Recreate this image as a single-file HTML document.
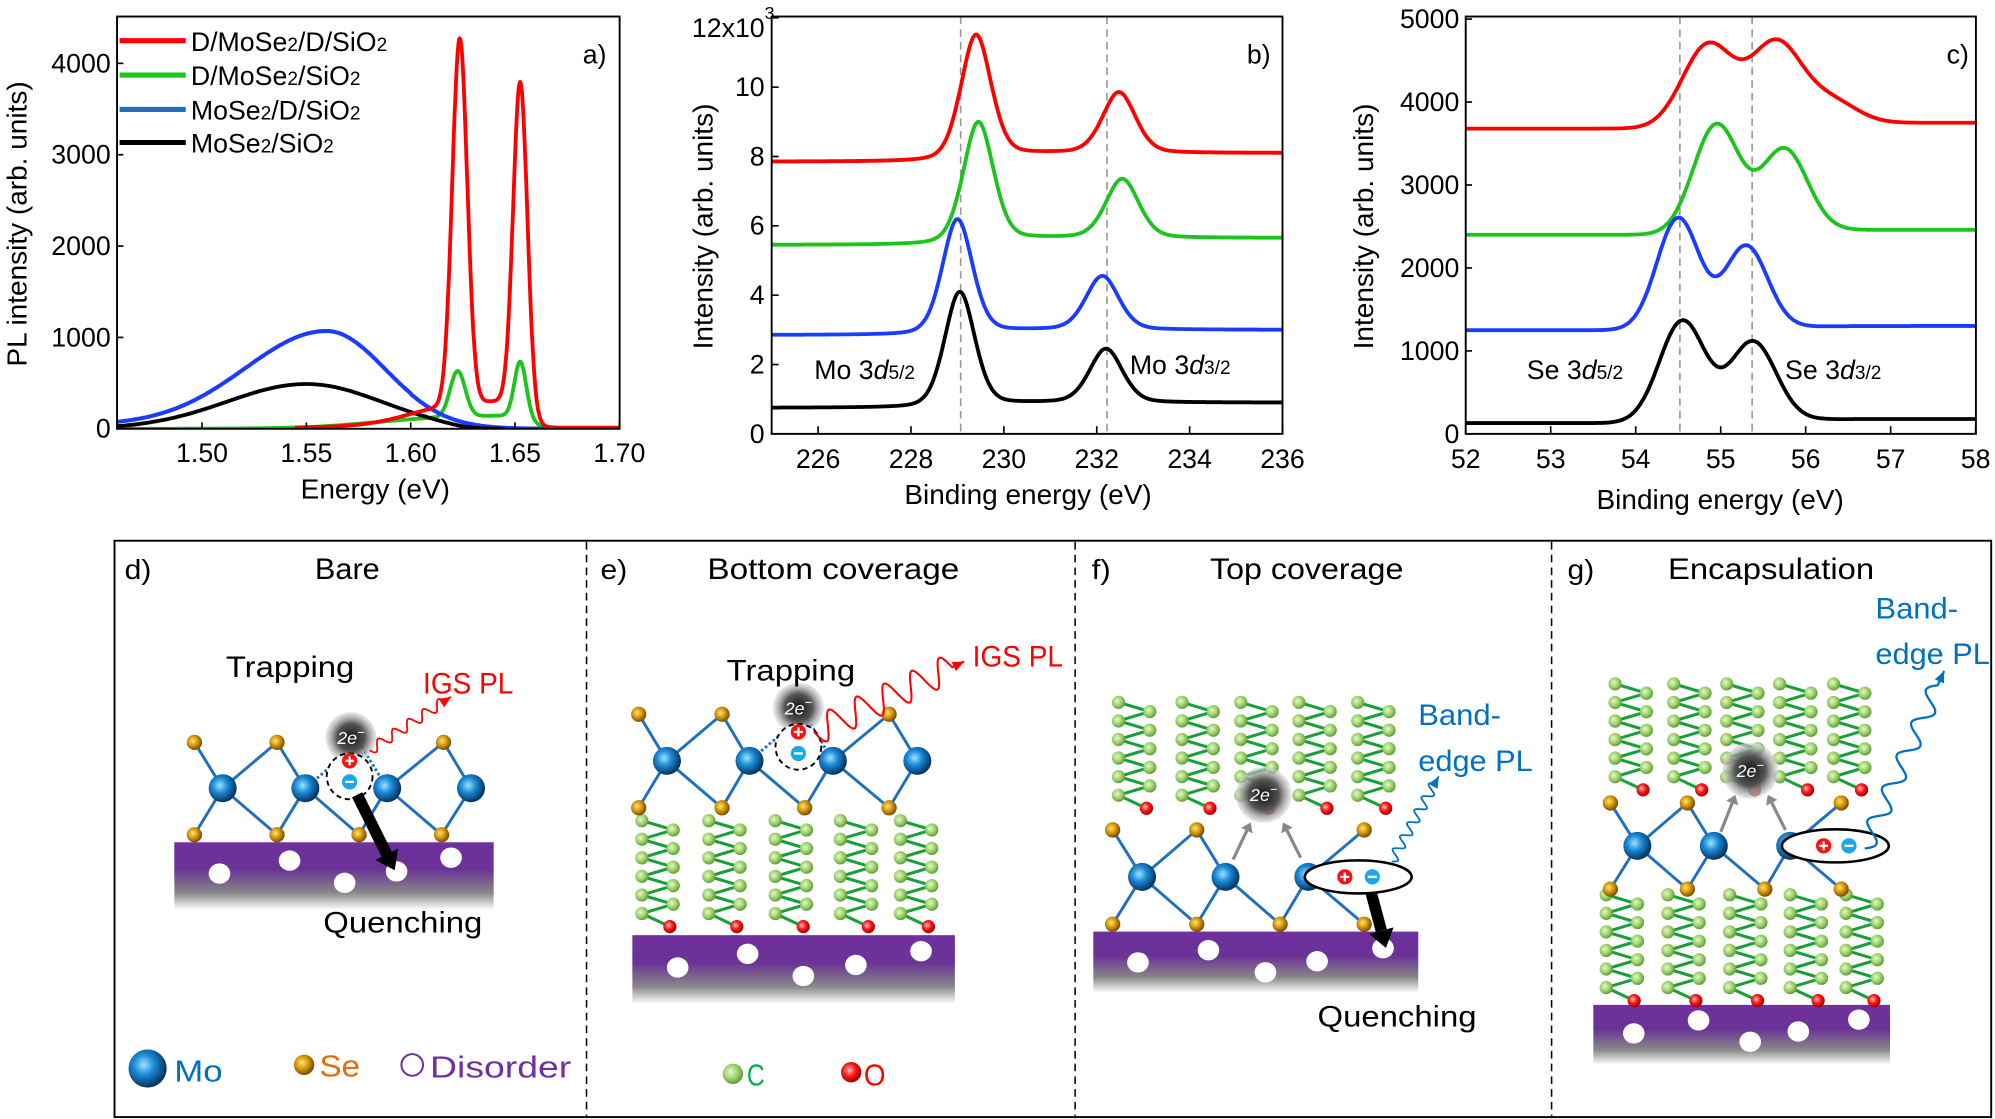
<!DOCTYPE html>
<html><head><meta charset="utf-8"><style>
html,body{margin:0;padding:0;background:#fff;}
svg{display:block;}
text{font-family:"Liberation Sans",sans-serif;}
</style></head><body>
<svg id="s" width="1995" height="1119" viewBox="0 0 1568 879.5" preserveAspectRatio="none" xmlns="http://www.w3.org/2000/svg">
<defs>
<radialGradient id="gMo" cx="0.4" cy="0.4" r="0.6"><stop offset="0" stop-color="#9be3ff"/><stop offset="0.45" stop-color="#1b8ad6"/><stop offset="1" stop-color="#06345f"/></radialGradient>
<radialGradient id="gSe" cx="0.4" cy="0.4" r="0.6"><stop offset="0" stop-color="#ffe27a"/><stop offset="0.5" stop-color="#d89a0a"/><stop offset="1" stop-color="#7a4d00"/></radialGradient>
<radialGradient id="gC" cx="0.4" cy="0.4" r="0.6"><stop offset="0" stop-color="#e6f8c8"/><stop offset="0.6" stop-color="#9ad068"/><stop offset="1" stop-color="#5f9e3a"/></radialGradient>
<radialGradient id="gO" cx="0.4" cy="0.4" r="0.6"><stop offset="0" stop-color="#ffc0c0"/><stop offset="0.5" stop-color="#ff1a1a"/><stop offset="1" stop-color="#a00000"/></radialGradient>
<radialGradient id="gCl" cx="0.5" cy="0.5" r="0.5"><stop offset="0" stop-color="#111"/><stop offset="0.55" stop-color="#555"/><stop offset="1" stop-color="#ddd" stop-opacity="0.6"/></radialGradient>
<linearGradient id="gSub" x1="0" y1="0" x2="0" y2="1"><stop offset="0" stop-color="#7030a0"/><stop offset="0.4" stop-color="#6a3296"/><stop offset="0.75" stop-color="#888"/><stop offset="1" stop-color="#fff"/></linearGradient>
<clipPath id="ca"><rect x="92" y="13" width="395" height="324"/></clipPath>
<clipPath id="cb"><rect x="606.5" y="13" width="401.5" height="328"/></clipPath>
<clipPath id="cc"><rect x="1152" y="13" width="401" height="328"/></clipPath>
</defs>
<g id="g"></g>
</svg>
<script>
let o='';
const G=(e,m,s)=>Math.exp(-0.5*((e-m)/s)**2);
const sig=x=>1/(1+Math.exp(-x));
function P(f,a,b,n,X,Y){let d='';for(let i=0;i<=n;i++){const e=a+(b-a)*i/n;d+=(i?'L':'M')+X(e).toFixed(1)+','+Y(f(e)).toFixed(1);}return d;}
function path(d,c,w,extra){o+=`<path d="${d}" fill="none" stroke="${c}" stroke-width="${w}" stroke-linejoin="round" ${extra||''}/>`;}
function T(x,y,t,sz,anc,extra){o+=`<text x="${x}" y="${y}" font-size="${sz}" text-anchor="${anc||'start'}" ${extra||''}>${t}</text>`;}
// ===== Panel a =====
{const X=e=>158.8+(e-1.5)*1640, Y=v=>337-v*0.0718;
o+='<g clip-path="url(#ca)">';
const blue=e=>1050*(e<1.56?G(e,1.56,0.039):G(e,1.56,0.028))+40*sig((1.56-e)/0.03)*(e<1.6?1:0.3);
const black=e=>490*(e<1.55?G(e,1.55,0.038):G(e,1.55,0.036))*sig((1.625-e)/0.006);
const green=e=>150*sig((e-1.585)/0.018)*sig((1.659-e)/0.0025)+500*G(e,1.6225,0.0036)+600*G(e,1.6525,0.0028);
const red=e=>300*sig((e-1.6)/0.012)*sig((1.657-e)/0.0025)+4000*G(e,1.6235,0.0036)+3530*G(e,1.6525,0.0034)+12;
path(P(green,1.459,1.672,400,X,Y),'#1ec41e',3);
path(P(blue,1.459,1.665,300,X,Y),'#1a3cff',3.2);
path(P(black,1.459,1.645,300,X,Y),'#000',3);
path(P(red,1.5445,1.70,500,X,Y),'#ff0000',3);
o+='</g>';
o+='<rect x="92" y="13" width="395" height="324" fill="none" stroke="#000" stroke-width="1.5"/>';
for(let v=0;v<=4000;v+=1000){const y=Y(v);o+=`<line x1="92" y1="${y}" x2="97" y2="${y}" stroke="#000" stroke-width="1.3"/>`;T(87,y+7,v,21,'end');}
[1.5,1.55,1.6,1.65,1.7].forEach(e=>{const x=X(e);o+=`<line x1="${x}" y1="337" x2="${x}" y2="332" stroke="#000" stroke-width="1.3"/>`;T(x,363,e.toFixed(2),21,'middle');});
T(295,392,'Energy (eV)',22,'middle');
T(0,0,'PL intensity (arb. units)',22,'middle','transform="translate(21,176) rotate(-90)"');
T(458,50,'a)',21);
const lg=[['#ff0000','D/MoSe<tspan font-size="15">2</tspan>/D/SiO<tspan font-size="15">2</tspan>',32],['#1ec41e','D/MoSe<tspan font-size="15">2</tspan>/SiO<tspan font-size="15">2</tspan>',59],['#1f6fc0','MoSe<tspan font-size="15">2</tspan>/D/SiO<tspan font-size="15">2</tspan>',86],['#000','MoSe<tspan font-size="15">2</tspan>/SiO<tspan font-size="15">2</tspan>',112]];
lg.forEach(l=>{o+=`<line x1="94" y1="${l[2]}" x2="146" y2="${l[2]}" stroke="${l[0]}" stroke-width="4"/>`;T(150,l[2]+8,l[1],21);});
}
// ===== Panel b =====
{const X=e=>606.5+(e-225)*36.5, Y=v=>341-v*27.25;
o+='<g clip-path="url(#cb)">';
[229.07,232.22].forEach(e=>o+=`<line x1="${X(e)}" y1="13" x2="${X(e)}" y2="345" stroke="#999" stroke-width="1.3" stroke-dasharray="6,4"/>`);
const tr=(b0,b1,m1,a1,m2,a2)=>e=>b0+(b1-b0)*sig((e-229.5)/0.5)+a1*(0.75*G(e,m1,0.33)+0.25/(1+((e-m1)/0.35)**2))+a2*(0.75*G(e,m2,0.36)+0.25/(1+((e-m2)/0.38)**2));
path(P(tr(7.85,8.1,229.4,3.55,232.48,1.75),225,236,400,X,Y),'#ff0000',3);
path(P(tr(5.45,5.65,229.45,3.45,232.55,1.7),225,236,400,X,Y),'#1ec41e',3);
path(P(tr(2.85,3.0,229.0,3.3,232.12,1.55),225,236,400,X,Y),'#1a3cff',3);
path(P(tr(0.75,0.9,229.05,3.3,232.2,1.55),225,236,400,X,Y),'#000',3);
o+='</g>';
o+='<rect x="606.5" y="13" width="401.5" height="328" fill="none" stroke="#000" stroke-width="1.5"/>';
for(let v=0;v<=12;v+=2){const y=Y(v);o+=`<line x1="606.5" y1="${y}" x2="612" y2="${y}" stroke="#000" stroke-width="1.3"/>`;if(v<12)T(601,y+7,v,21,'end');}
T(601,29,'12x10',21,'end');T(601,15,'3',14);
for(let e=226;e<=236;e+=2){const x=X(e);o+=`<line x1="${x}" y1="341" x2="${x}" y2="335" stroke="#000" stroke-width="1.3"/>`;T(x,368,e,21,'middle');}
T(808,396,'Binding energy (eV)',22,'middle');
T(0,0,'Intensity (arb. units)',22,'middle','transform="translate(560,178) rotate(-90)"');
T(980,50,'b)',21);
T(640,298,'Mo 3<tspan font-style="italic">d</tspan><tspan font-size="15">5/2</tspan>',21);
T(888,294,'Mo 3<tspan font-style="italic">d</tspan><tspan font-size="15">3/2</tspan>',21);
}
// ===== Panel c =====
{const X=e=>1152+(e-52)*66.8, Y=v=>341-v*0.0652;
o+='<g clip-path="url(#cc)">';
[54.52,55.37].forEach(e=>o+=`<line x1="${X(e)}" y1="13" x2="${X(e)}" y2="345" stroke="#999" stroke-width="1.3" stroke-dasharray="6,4"/>`);
const tr=(b0,b1,m1,a1,m2,a2,s)=>e=>b0+(b1-b0)*sig((e-55.5)/0.3)+a1*G(e,m1,s)+a2*G(e,m2,s);
path(P(e=>tr(3680,3750,54.85,1000,55.65,980,0.3)(e)+260*G(e,56.3,0.3),52,58,300,X,Y),'#ff0000',3);
path(P(tr(2400,2460,54.95,1320,55.75,990,0.27),52,58,300,X,Y),'#1ec41e',3);
path(P(tr(1250,1300,54.5,1350,55.3,1000,0.25),52,58,300,X,Y),'#1a3cff',3);
path(P(tr(130,180,54.55,1230,55.38,960,0.27),52,58,300,X,Y),'#000',3);
o+='</g>';
o+='<rect x="1152" y="13" width="401" height="328" fill="none" stroke="#000" stroke-width="1.5"/>';
for(let v=0;v<=5000;v+=1000){const y=Y(v);o+=`<line x1="1152" y1="${y}" x2="1157" y2="${y}" stroke="#000" stroke-width="1.3"/>`;T(1147,y+7,v,21,'end');}
for(let e=52;e<=58;e++){const x=X(e);o+=`<line x1="${x}" y1="341" x2="${x}" y2="335" stroke="#000" stroke-width="1.3"/>`;T(x,368,e,21,'middle');}
T(1352,400,'Binding energy (eV)',22,'middle');
T(0,0,'Intensity (arb. units)',22,'middle','transform="translate(1079,178) rotate(-90)"');
T(1530,50,'c)',21);
T(1200,298,'Se 3<tspan font-style="italic">d</tspan><tspan font-size="15">5/2</tspan>',21);
T(1403,298,'Se 3<tspan font-style="italic">d</tspan><tspan font-size="15">3/2</tspan>',21);
}
// ===== Bottom diagram =====
o+='<rect x="90" y="425" width="1475" height="453" fill="none" stroke="#000" stroke-width="1.5"/>';
[461,845,1219.5].forEach(x=>o+=`<line x1="${x}" y1="426" x2="${x}" y2="877" stroke="#000" stroke-width="1.2" stroke-dasharray="6,4"/>`);
function TT(x,y,t,sz,len,col,anc){o+=`<text x="${x}" y="${y}" font-size="${sz}" fill="${col||'#000'}" text-anchor="${anc||'middle'}" textLength="${len}" lengthAdjust="spacingAndGlyphs">${t}</text>`;}
TT(98,455,'d)',22,21,'#000','start');TT(273,455,'Bare',23,51);
TT(472,455,'e)',22,21,'#000','start');TT(655,455,'Bottom coverage',23,198);
TT(858,455,'f)',22,15,'#000','start');TT(1027,455,'Top coverage',23,152);
TT(1232,455,'g)',22,21,'#000','start');TT(1392,455,'Encapsulation',23,162);
function ball(x,y,r,g){o+=`<circle cx="${x}" cy="${y}" r="${r}" fill="url(#${g})"/>`;}
function sub(x0,y0,x1,y1,dots){o+=`<rect x="${x0}" y="${y0}" width="${x1-x0}" height="${y1-y0}" fill="url(#gSub)"/>`;dots.forEach(d=>o+=`<ellipse cx="${d[0]}" cy="${d[1]}" rx="8.5" ry="8" fill="#fff"/>`);}
function lattice(mo,y,st,yt,sb,yb,missing){
 const all=st.map(x=>[x,yt]).concat(sb.map(x=>[x,yb]));
 mo.forEach(m=>{all.forEach(s=>{if(Math.abs(s[0]-m)<50&&Math.abs(s[0]-m)>5){o+=`<line x1="${m}" y1="${y}" x2="${s[0]}" y2="${s[1]}" stroke="#1f6fbf" stroke-width="2.3"/>`;}});});
 if(missing){mo.forEach(m=>{if(Math.abs(missing[0]-m)<50)o+=`<line x1="${m}" y1="${y}" x2="${missing[0]}" y2="${missing[1]}" stroke="#1f6fbf" stroke-width="2.3" stroke-dasharray="2,2"/>`;});}
 st.forEach(x=>ball(x,yt,6,'gSe'));sb.forEach(x=>ball(x,yb,6,'gSe'));mo.forEach(x=>ball(x,y,11,'gMo'));
}
function chain(x,y0){
 const n=11,step=7.3;let pts=[];for(let i=0;i<n;i++)pts.push([x+(i%2?24.6:0),y0+i*step]);
 let d='M'+pts.map(p=>p[0]+','+p[1]).join('L');const O=[x+22,y0+n*step+3];
 d+='L'+O[0]+','+O[1];o+=`<path d="${d}" fill="none" stroke="#1a9e3a" stroke-width="2.4"/>`;
 pts.forEach(p=>ball(p[0],p[1],5.2,'gC'));ball(O[0],O[1],5.2,'gO');
}
function cloud(x,y,r){o+=`<circle cx="${x}" cy="${y}" r="${r}" fill="url(#gCl)"/><text x="${x}" y="${y+5}" font-size="14" font-style="italic" fill="#fff" text-anchor="middle" font-family="Liberation Serif, serif">2e<tspan dy="-6" font-size="10">−</tspan></text>`;}
function pm(x,y,plus){o+=`<circle cx="${x}" cy="${y}" r="6" fill="${plus?'#ff1010':'#1aa9e8'}"/><line x1="${x-3.5}" y1="${y}" x2="${x+3.5}" y2="${y}" stroke="#fff" stroke-width="1.8"/>`+(plus?`<line x1="${x}" y1="${y-3.5}" x2="${x}" y2="${y+3.5}" stroke="#fff" stroke-width="1.8"/>`:'');}
function wave(x0,y0,x1,y1,cyc,amp,col,w){const dx=x1-x0,dy=y1-y0,L=Math.hypot(dx,dy),ux=dx/L,uy=dy/L,nx=-uy,ny=ux;let d='';const N=200;
 for(let i=0;i<=N;i++){const t=i/N*0.92;const a=amp*Math.sin(t/0.92*cyc*2*Math.PI);d+=(i?'L':'M')+(x0+dx*t+nx*a).toFixed(1)+','+(y0+dy*t+ny*a).toFixed(1);}
 d+='L'+x1+','+y1;o+=`<path d="${d}" fill="none" stroke="${col}" stroke-width="${w}"/>`;
 const hx=x1-ux*9,hy=y1-uy*9;o+=`<polygon points="${x1},${y1} ${hx+nx*4},${hy+ny*4} ${hx-nx*4},${hy-ny*4}" fill="${col}"/>`;}
function arrow(x0,y0,x1,y1,col,w,hw){const dx=x1-x0,dy=y1-y0,L=Math.hypot(dx,dy),ux=dx/L,uy=dy/L,nx=-uy,ny=ux;const hl=hw*1.4;const bx=x1-ux*hl,by=y1-uy*hl;
 o+=`<line x1="${x0}" y1="${y0}" x2="${bx}" y2="${by}" stroke="${col}" stroke-width="${w}"/><polygon points="${x1},${y1} ${bx+nx*hw},${by+ny*hw} ${bx-nx*hw},${by-ny*hw}" fill="${col}"/>`;}
// panel d
sub(137,662,388,715,[[172.5,686.6],[227.6,676.4],[270.9,693.9],[311.7,684.9],[354.5,674.1]]);
lattice([175,240,304.3,370.2],619.5,[152.8,217.7,348.6],583.5,[152.8,217.7,282.2,347.1],656.1,[282.2,583.5]);
cloud(275.8,579.7,20);
o+=`<circle cx="274.8" cy="610.2" r="18" fill="#fff" stroke="#000" stroke-width="1.5" stroke-dasharray="4,3"/>`;
pm(274.8,598,true);pm(274.8,614.5,false);
arrow(280.7,624.7,310.2,684,'#000',9,10);
wave(290.5,589.8,354.5,547.7,5,4,'#ff0000',1.4);
TT(228,532,'Trapping',23,101);TT(368,545,'IGS PL',23,71,'#ff0000');TT(316.6,733,'Quenching',23,125);
ball(116,839.8,15,'gMo');TT(137,850,'Mo',24,38,'#0070c0','start');
ball(239,836.9,8,'gSe');TT(251,846,'Se',24,32,'#e46c0a','start');
o+=`<circle cx="324" cy="837" r="8.5" fill="none" stroke="#7030a0" stroke-width="1.6"/>`;TT(338,847,'Disorder',24,111,'#7030a0','start');
// panel e
sub(497,735,750.5,789,[[532.6,760.4],[587.6,749.7],[631.4,767.1],[672.7,758.4],[723.9,747.6]]);
[504.5,557.1,609.3,660.5,707.7].forEach(x=>chain(x,645));
lattice([524.2,589.1,654.6,721],598,[502,567.5,698.8],561.4,[502,567.5,632.4,698.8],634.9,[632.4,561.4]);
cloud(627.5,556.4,20);
o+=`<circle cx="627.5" cy="587" r="18" fill="#fff" fill-opacity="0.9" stroke="#000" stroke-width="1.5" stroke-dasharray="4,3"/>`;
pm(627.5,575.3,true);pm(627.5,592.2,false);
wave(639.8,575.3,757.8,520,5,11,'#ff0000',1.6);
TT(621.6,535,'Trapping',23,101);TT(800,524,'IGS PL',23,71,'#ff0000');
ball(576,844,8,'gC');TT(587,853,'C',24,14,'#00b050','start');
ball(669,842.7,8,'gO');TT(679,853,'O',24,17,'#ff0000','start');
// panel f
sub(859.3,732.2,1114.7,780.2,[[894.4,756.4],[949.8,746.8],[994.6,764.2],[1035.2,755.5],[1087,745.3]]);
[879.1,929,975.2,1020.9,1067.1].forEach(x=>chain(x,552));
lattice([897.6,963.2,1028.3],689.2,[874.5,940.6,1072.2],652.3,[874.5,940.6,1006.1,1072.2],726.4,null);
cloud(993.2,624.7,22);
arrow(969.2,675.6,983,646.5,'#888',2.5,5);arrow(1022.3,674.1,1008.4,646.5,'#888',2.5,5);
o+=`<ellipse cx="1067.5" cy="689.2" rx="42" ry="13" fill="#fff" stroke="#000" stroke-width="2"/>`;pm(1057,689.2,true);pm(1078.6,689.2,false);
arrow(1077.7,701.7,1089.3,745,'#000',9,10);
wave(1093.9,677,1130.8,610.2,6,4,'#0070c0',1.4);
TT(1098,807,'Quenching',23,125);
TT(1114.7,570,'Band-',23,65,'#0070c0','start');TT(1114.7,606,'edge PL',23,90,'#0070c0','start');
// panel g
sub(1252.3,789.8,1485.5,836.9,[[1284.1,812.2],[1335,802],[1375.6,818.8],[1413.4,810.7],[1461,801.4]]);
[1262.4,1310.9,1359.4,1407,1450.9].forEach(x=>chain(x,703.2));
[1269.4,1315.5,1357.1,1398.7,1441.1].forEach(x=>chain(x,537.5));
lattice([1286.9,1347,1407],664.8,[1265.7,1326.2,1447.1],631.1,[1265.7,1326.2,1387.1,1447.1],698.8,null);
cloud(1375.6,605.8,22);
arrow(1352.5,653.8,1364,624.7,'#888',2.5,5);arrow(1403.3,652.3,1389.4,624.7,'#888',2.5,5);
o+=`<ellipse cx="1442.5" cy="664.8" rx="42" ry="13" fill="#fff" stroke="#000" stroke-width="2"/>`;pm(1433.3,664.8,true);pm(1453.2,664.8,false);
wave(1465.6,666.9,1528,527.4,5,7,'#0070c0',1.8);
TT(1474,486,'Band-',23,65,'#0070c0','start');TT(1474,522,'edge PL',23,90,'#0070c0','start');
document.getElementById('g').innerHTML=o;
</script>
</body></html>
